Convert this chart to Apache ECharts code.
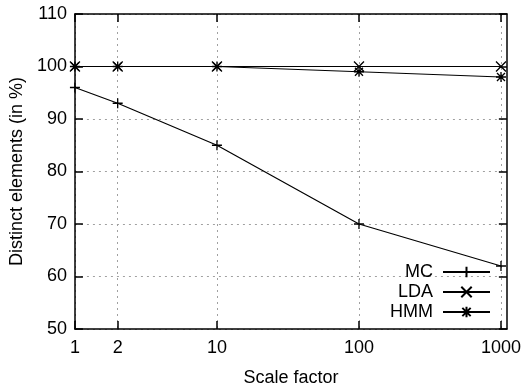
<!DOCTYPE html>
<html>
<head>
<meta charset="utf-8">
<script src="https://cdn.jsdelivr.net/npm/echarts@6/dist/echarts.min.js"></script>
<style>
  html, body { margin: 0; padding: 0; background: #fff; }
  #chart { width: 524px; height: 392px; }
</style>
</head>
<body>
<div id="chart"></div>
<script>
// scale factors and series values
const scaleFactors = [1, 2, 10, 100, 1000];
const xTicks = [1, 2, 10, 100, 1000];
const mcValues = [96, 93, 85, 70, 62];
const ldaValues = [100, 100, 100, 100, 100];
const hmmValues = [100, 100, 100, 99, 98];

const FONT = "Liberation Sans";
const FS = 18;
const symPlus = "path://M0,5L10,5M5,0L5,10";
const symCross = "path://M0,0L10,10M10,0L0,10";
const symStar = "path://M0,5L10,5M5,0L5,10M1,1L9,9M9,1L1,9";

const chart = echarts.init(document.getElementById("chart"));

const dotted = { color: "#a0a0a0", width: 1, type: [2, 4] };
const border = { show: true, onZero: false, lineStyle: { color: "#000", width: 1.5 } };
const tick = { show: true, inside: true, length: 8, lineStyle: { color: "#000", width: 1.5 } };
const xTick = Object.assign({}, tick, { customValues: xTicks });

// log x axis, shared settings
function logX(extra) {
  return Object.assign({ type: "log", logBase: 10, min: 1, max: 1100, minorTick: { show: false } }, extra);
}
function linY(extra) {
  return Object.assign({ type: "value", min: 50, max: 110, interval: 10 }, extra);
}

function makeSeries(name, values, symbol) {
  return {
    name: name,
    type: "line",
    data: scaleFactors.map((x, i) => [x, values[i]]),
    symbol: symbol,
    symbolSize: 10,
    showSymbol: true,
    lineStyle: { color: "#000", width: 1.2 },
    itemStyle: { color: "none", borderColor: "#000", borderWidth: 1.3 },
    emphasis: { disabled: true },
  };
}

chart.setOption({
  backgroundColor: "#fff",
  animation: false,
  grid: { left: 74, right: 15, top: 14, bottom: 61 },
  legend: {
    orient: "vertical",
    right: 28,
    top: 258,
    align: "right",
    itemWidth: 47,
    itemHeight: 13,
    itemGap: 2,
    selectedMode: false,
    textStyle: { fontFamily: FONT, fontSize: FS, color: "#000", padding: [0, 5, 0, 0] },
    data: ["MC", "LDA", "HMM"],
  },
  xAxis: [
    logX({
      z: 2,
      name: "Scale factor",
      nameLocation: "middle",
      nameGap: 40,
      nameTextStyle: { fontFamily: FONT, fontSize: FS, color: "#000" },
      axisLine: border,
      axisTick: xTick,
      axisLabel: {
        customValues: xTicks,
        formatter: (v) => String(v),
        fontFamily: FONT, fontSize: FS, color: "#000", margin: 10,
      },
      splitLine: { show: false },
    }),
    logX({
      z: 2,
      position: "top",
      axisLine: border,
      axisTick: xTick,
      axisLabel: { show: false },
      splitLine: { show: false },
    }),
    // grid lines only, drawn under the ticks
    logX({
      z: 0,
      position: "bottom",
      axisLine: { show: false },
      axisTick: Object.assign({}, xTick, { show: false }),
      axisLabel: { show: false },
      splitLine: { show: true, lineStyle: dotted },
    }),
  ],
  yAxis: [
    linY({
      z: 2,
      name: "Distinct elements (in %)",
      nameLocation: "middle",
      nameGap: 47,
      nameTextStyle: { fontFamily: FONT, fontSize: FS, color: "#000" },
      axisLine: border,
      axisTick: tick,
      axisLabel: { fontFamily: FONT, fontSize: FS, color: "#000", margin: 8 },
      splitLine: { show: false },
    }),
    linY({
      z: 2,
      position: "right",
      axisLine: border,
      axisTick: tick,
      axisLabel: { show: false },
      splitLine: { show: false },
    }),
    linY({
      z: 0,
      position: "left",
      axisLine: { show: false },
      axisTick: { show: false },
      axisLabel: { show: false },
      splitLine: { show: true, lineStyle: dotted },
    }),
  ],
  series: [
    makeSeries("MC", mcValues, symPlus),
    makeSeries("LDA", ldaValues, symCross),
    makeSeries("HMM", hmmValues, symStar),
  ],
});
</script>
</body>
</html>
